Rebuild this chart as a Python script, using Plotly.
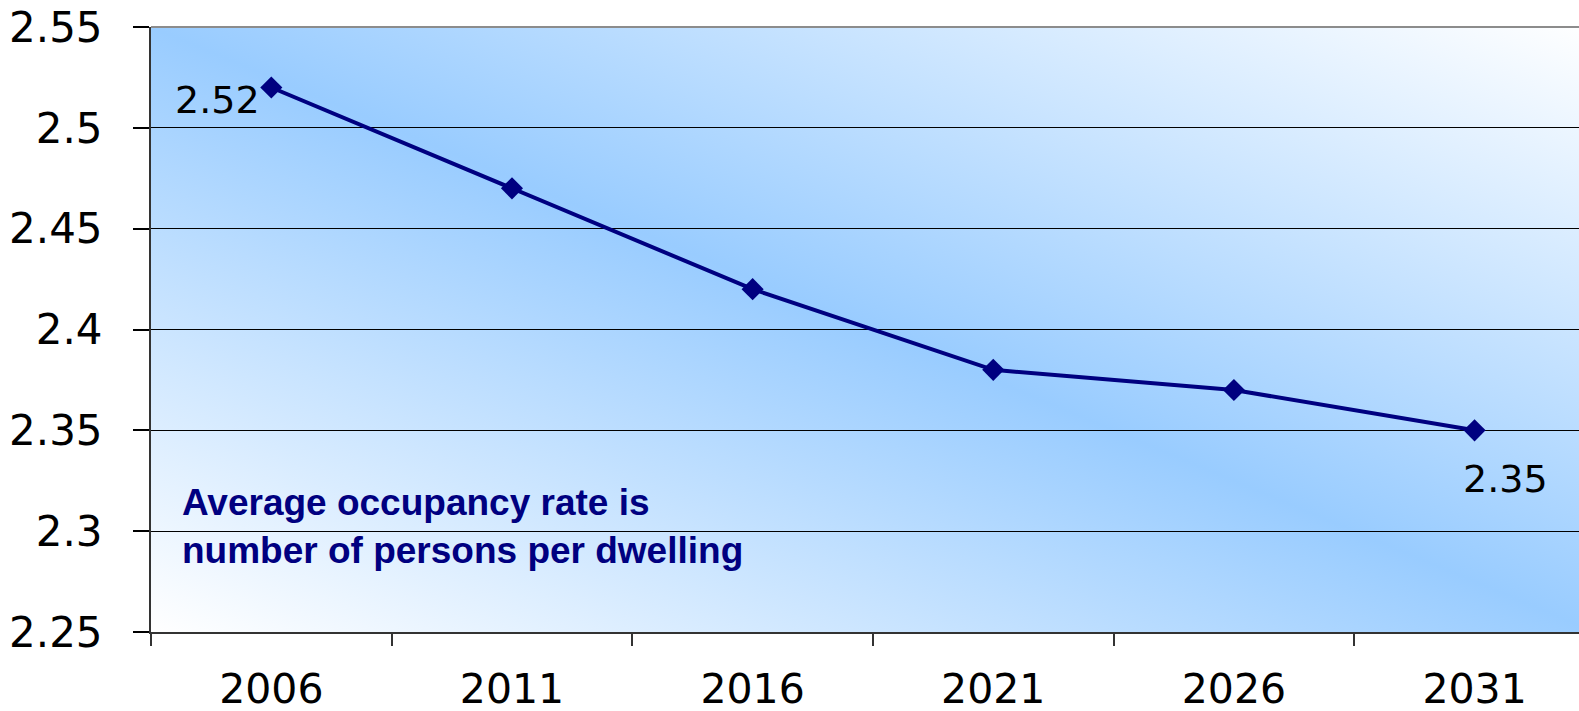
import base64

import plotly.graph_objs as go

years = ["2006", "2011", "2016", "2021", "2026", "2031"]
occupancy = [2.52, 2.47, 2.42, 2.38, 2.37, 2.35]
y_ticks = [2.25, 2.3, 2.35, 2.4, 2.45, 2.5, 2.55]
note = "Average occupancy rate is<br>number of persons per dwelling"

NAVY = "#000080"

# diagonal white - blue - white fill, like the office chart background
svg = ("<svg xmlns='http://www.w3.org/2000/svg' width='1444' height='605' "
       "viewBox='0 0 1444 605' preserveAspectRatio='none'><defs>"
       "<linearGradient id='g' x1='0' y1='1' x2='1' y2='0'>"
       "<stop offset='0' stop-color='#ffffff'/>"
       "<stop offset='0.5' stop-color='#99ccff'/>"
       "<stop offset='1' stop-color='#ffffff'/>"
       "</linearGradient></defs>"
       "<rect width='1444' height='605' fill='url(#g)'/></svg>")
bg_src = "data:image/svg+xml;base64," + base64.b64encode(svg.encode()).decode()

trace = go.Scatter(x=years,
                   y=occupancy,
                   mode="lines+markers",
                   line=dict(color=NAVY, width=4),
                   marker=dict(symbol="diamond", size=17, color=NAVY),
                   hoverinfo="x+y",
                   showlegend=False)

fig = go.Figure(data=[trace])

num_font = dict(family="DejaVu Sans", size=38, color="black")
first, last = 0, len(years) - 1

fig.update_layout(
    width=1579, height=711,
    margin=dict(l=151, r=0, t=27, b=79),
    paper_bgcolor="white",
    plot_bgcolor="rgba(0,0,0,0)",
    images=[dict(source=bg_src, xref="paper", yref="paper",
                 x=0, y=1, sizex=1444 / 1428, sizey=1,
                 xanchor="left", yanchor="top",
                 sizing="stretch", layer="below")],
    xaxis=dict(type="category",
               range=[-0.5, 5.434],
               tickson="boundaries",
               ticks="outside", ticklen=12, tickwidth=1.5, tickcolor="#333333",
               showgrid=False, zeroline=False, automargin=False,
               showline=True, linecolor="#333333", linewidth=2,
               tickfont=dict(family="DejaVu Sans", size=41, color="black"),
               ticklabelstandoff=20),
    yaxis=dict(range=[2.25, 2.55],
               tickvals=y_ticks,
               ticktext=["%g" % v for v in y_ticks],
               ticks="outside", ticklen=16, tickwidth=1.5, tickcolor="black",
               showgrid=True, gridcolor="black", gridwidth=1,
               zeroline=False, automargin=False,
               showline=True, linecolor="#333333", linewidth=2,
               tickfont=dict(family="DejaVu Sans", size=42, color="black"),
               ticklabelstandoff=22),
    shapes=[dict(type="line", xref="paper", yref="paper",
                 x0=0, x1=1, y0=1, y1=1,
                 line=dict(color="#8c8c8c", width=2))],
    annotations=[
        dict(x=first, y=occupancy[first], text="%.2f" % occupancy[first],
             showarrow=False, xanchor="right", yanchor="middle",
             xshift=-9, yshift=-12, font=num_font),
        dict(x=last, y=occupancy[last], text="%.2f" % occupancy[last],
             showarrow=False, xanchor="center", yanchor="middle",
             xshift=31, yshift=-49, font=num_font),
        dict(x=0.0203, y=0.175, xref="paper", yref="paper",
             text="<b>" + note.replace("<br>", "</b><br><b>") + "</b>",
             showarrow=False, xanchor="left", yanchor="middle", align="left",
             font=dict(family="Liberation Sans", size=37, color=NAVY)),
    ],
)

fig.write_html("out.html", config={"displayModeBar": False},
               post_script="document.body.style.margin='0px';")
